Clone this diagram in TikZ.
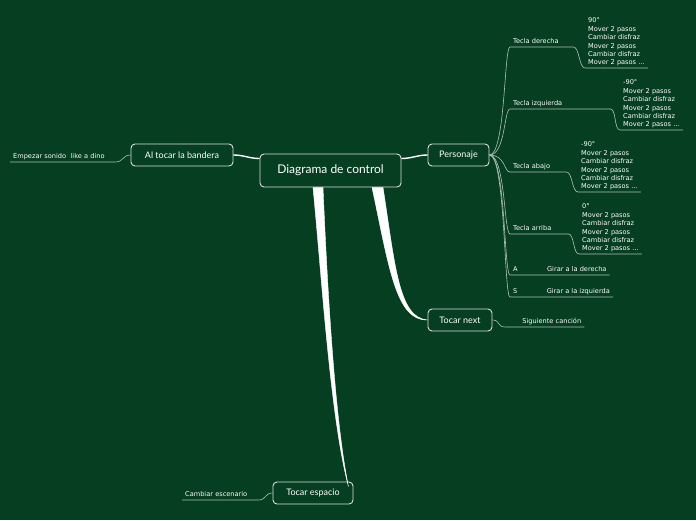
\documentclass[tikz,border=0pt]{standalone}
\usepackage{fontspec}
\setmainfont{DejaVu Sans}
\newfontfamily\handfont{Lato}
\usetikzlibrary{positioning}
\definecolor{board}{RGB}{5,62,32}
\definecolor{twiggray}{RGB}{176,194,182}
\definecolor{framegray}{RGB}{218,224,219}

\begin{document}
\begin{tikzpicture}[
  x=1pt, y=-1pt,
  topic/.style={rectangle, rounded corners=4pt, draw=framegray, line width=0.9pt, text=white, inner sep=0pt, minimum height=22pt, font=\handfont\fontsize{9}{11}\selectfont},
  leaf/.style={anchor=south west, text=white, inner xsep=3pt, inner ysep=1.5pt, text height=5pt, text depth=1.5pt, font=\fontsize{6.6}{8.4}\selectfont},
  steps/.style={anchor=south west, text=white, align=left, inner xsep=3pt, inner ysep=1.5pt, font=\fontsize{6.6}{8.4}\selectfont},
  twig/.style={draw=twiggray, line width=0.6pt},
  limb/.style={draw=white, line width=1.4pt},
]
\fill[board] (0,0) rectangle (696,520);
\useasboundingbox (0,0) rectangle (696,520);

\node[topic, minimum width=141pt, minimum height=33pt, font=\handfont\fontsize{12}{14}\selectfont] (ctrl) at (330.5,170.5) {Diagrama de control};
\node[topic, minimum width=102pt] (flag) at (182,155) {Al tocar la bandera};
\node[topic, minimum width=61pt] (pers) at (458.5,155) {Personaje};
\node[topic, minimum width=64pt] (next) at (460,320) {Tocar next};
\node[topic, minimum width=80pt] (space) at (313,493) {Tocar espacio};

\node[leaf, text width=57pt] (right) at (510,47) {Tecla derecha};
\node[steps] (rightsteps) at (585,68) {90°\\Mover 2 pasos\\Cambiar disfraz\\Mover 2 pasos\\Cambiar disfraz\\Mover 2 pasos ...};
\node[leaf, text width=94pt] (left) at (510,109) {Tecla izquierda};
\node[steps] (leftsteps) at (620,130) {-90°\\Mover 2 pasos\\Cambiar disfraz\\Mover 2 pasos\\Cambiar disfraz\\Mover 2 pasos ...};
\node[leaf, text width=50pt] (down) at (510,172) {Tecla abajo};
\node[steps] (downsteps) at (578,192) {-90°\\Mover 2 pasos\\Cambiar disfraz\\Mover 2 pasos\\Cambiar disfraz\\Mover 2 pasos ...};
\node[leaf, text width=52pt] (up) at (510,234) {Tecla arriba};
\node[steps] (upsteps) at (579,254) {0°\\Mover 2 pasos\\Cambiar disfraz\\Mover 2 pasos\\Cambiar disfraz\\Mover 2 pasos ...};
\node[leaf] (keya) at (510,275) {A};
\node[right=23pt of keya.south east, leaf] (turnr) {Girar a la derecha};
\node[leaf] (keys) at (510,297) {S};
\node[right=23pt of keys.south east, leaf] (turnl) {Girar a la izquierda};
\node[leaf, text width=73pt, align=right] (song) at (505,327) {Siguiente canción};
\node[leaf, text width=99pt] (sound) at (10,162) {Empezar sonido\ \ like a dino};
\node[leaf, text width=70pt] (scene) at (182,500) {Cambiar escenario};

\draw[limb] (flag.east) to[out=0, in=180] ([yshift=12pt]ctrl.west);
\draw[limb] ([yshift=12pt]ctrl.east) to[out=0, in=180] (pers.west);
\filldraw[white, line width=0.4pt] ([xshift=-17.5pt]ctrl.south) .. controls +(9,93) and +(-18,-68) .. ([xshift=-5pt, yshift=-5pt]space.north east) .. controls +(-14,-68) and +(4,93) .. ([xshift=-7.5pt]ctrl.south) -- cycle;
\filldraw[white, line width=0.4pt] ([xshift=41.5pt]ctrl.south) .. controls +(17,79) and +(-32,1) .. (next.west) .. controls +(-29,-2) and +(12,77) .. ([xshift=52.5pt]ctrl.south) -- cycle;

\draw[twig] (pers.east) .. controls +(16,0) and +(-6,0) .. (right.south west) -- (right.south east) .. controls +(6,0) and +(-6,0) .. (rightsteps.south west) -- (rightsteps.south east);
\draw[twig] (pers.east) .. controls +(16,0) and +(-6,0) .. (left.south west) -- (left.south east) .. controls +(6,0) and +(-6,0) .. (leftsteps.south west) -- (leftsteps.south east);
\draw[twig] (pers.east) .. controls +(16,0) and +(-6,0) .. (down.south west) -- (down.south east) .. controls +(6,0) and +(-6,0) .. (downsteps.south west) -- (downsteps.south east);
\draw[twig] (pers.east) .. controls +(16,0) and +(-6,0) .. (up.south west) -- (up.south east) .. controls +(6,0) and +(-6,0) .. (upsteps.south west) -- (upsteps.south east);
\draw[twig] (pers.east) .. controls +(16,0) and +(-6,0) .. (keya.south west) -- (turnr.south east);
\draw[twig] (pers.east) .. controls +(16,0) and +(-6,0) .. (keys.south west) -- (turnl.south east);
\draw[twig] (next.east) .. controls +(8,0) and +(-8,0) .. (song.south west) -- (song.south east);
\draw[twig] (flag.west) .. controls +(-8,0) and +(8,0) .. (sound.south east) -- (sound.south west);
\draw[twig] (space.west) .. controls +(-8,0) and +(8,0) .. (scene.south east) -- (scene.south west);
\end{tikzpicture}
\end{document}
